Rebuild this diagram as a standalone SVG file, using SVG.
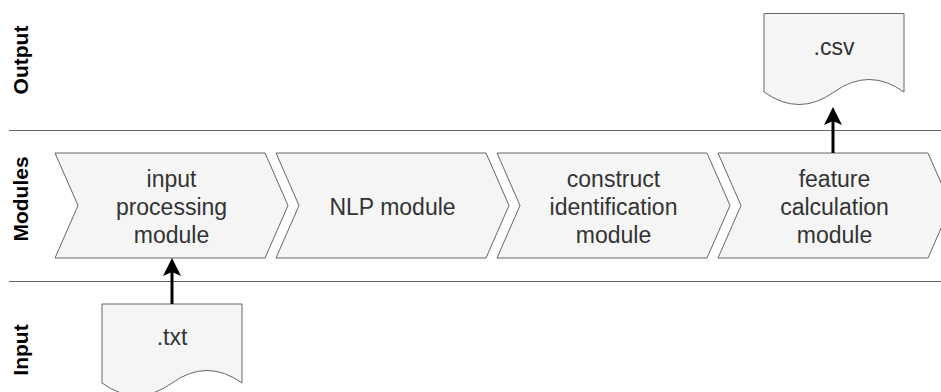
<svg xmlns="http://www.w3.org/2000/svg" width="941" height="392" viewBox="0 0 941 392">
  <style>
    .lane-line { stroke: #666666; stroke-width: 1; fill: none; }
    .lane-label { font-family: "Liberation Sans", Arial, sans-serif; font-size: 21px; font-weight: bold; fill: #000000; text-anchor: middle; }
    .shape { fill: #f5f5f5; stroke: #666666; stroke-width: 1; }
    .label { font-family: "Liberation Sans", Arial, sans-serif; font-size: 23px; fill: #333333; text-anchor: middle; }
    .edge { stroke: #000000; stroke-width: 3; fill: none; }
  </style>
  <defs>
    <marker id="arrow" markerUnits="userSpaceOnUse" markerWidth="20" markerHeight="20" viewBox="0 0 20 20" refX="4" refY="9" orient="auto">
      <path d="M0,0 L18,9 L0,18 L4,9 Z" fill="#000000"/>
    </marker>
  </defs>

  <rect width="941" height="392" fill="#ffffff"/>

  <!-- swimlane separators and titles -->
  <g id="lanes">
    <line class="lane-line" x1="9" y1="130.5" x2="941" y2="130.5"/>
    <line class="lane-line" x1="9" y1="281.5" x2="941" y2="281.5"/>
    <text class="lane-label" transform="translate(28,60) rotate(-90)">Output</text>
    <text class="lane-label" transform="translate(28,199) rotate(-90)">Modules</text>
    <text class="lane-label" transform="translate(28,350) rotate(-90)">Input</text>
  </g>

  <!-- processing steps -->
  <g id="step-input">
    <path class="shape" d="M55,153 L265,153 L288,205.5 L265,258 L55,258 L78,205.5 Z"/>
    <text class="label" x="171.5" y="187">input</text>
    <text class="label" x="171.5" y="215">processing</text>
    <text class="label" x="171.5" y="243">module</text>
  </g>
  <g id="step-nlp">
    <path class="shape" d="M276,153 L486,153 L509,205.5 L486,258 L276,258 L299,205.5 Z"/>
    <text class="label" x="392.5" y="215">NLP module</text>
  </g>
  <g id="step-construct">
    <path class="shape" d="M497,153 L707,153 L730,205.5 L707,258 L497,258 L520,205.5 Z"/>
    <text class="label" x="613.5" y="187">construct</text>
    <text class="label" x="613.5" y="215">identification</text>
    <text class="label" x="613.5" y="243">module</text>
  </g>
  <g id="step-feature">
    <path class="shape" d="M718,153 L928,153 L951,205.5 L928,258 L718,258 L741,205.5 Z"/>
    <text class="label" x="834.5" y="187">feature</text>
    <text class="label" x="834.5" y="215">calculation</text>
    <text class="label" x="834.5" y="243">module</text>
  </g>

  <!-- documents -->
  <g id="doc-csv">
    <path class="shape" d="M764,13.5 L904,13.5 L904,92 Q869,67 834,92 Q799,117 764,92 Z"/>
    <text class="label" x="834" y="55">.csv</text>
  </g>
  <g id="doc-txt">
    <path class="shape" d="M102,304 L242,304 L242,383 Q207,358 172,383 Q137,408 102,383 Z"/>
    <text class="label" x="172" y="345">.txt</text>
  </g>

  <!-- connectors -->
  <g id="connectors">
    <line class="edge" x1="172" y1="304" x2="172" y2="272" marker-end="url(#arrow)"/>
    <line class="edge" x1="833" y1="153" x2="833" y2="121" marker-end="url(#arrow)"/>
  </g>
</svg>
